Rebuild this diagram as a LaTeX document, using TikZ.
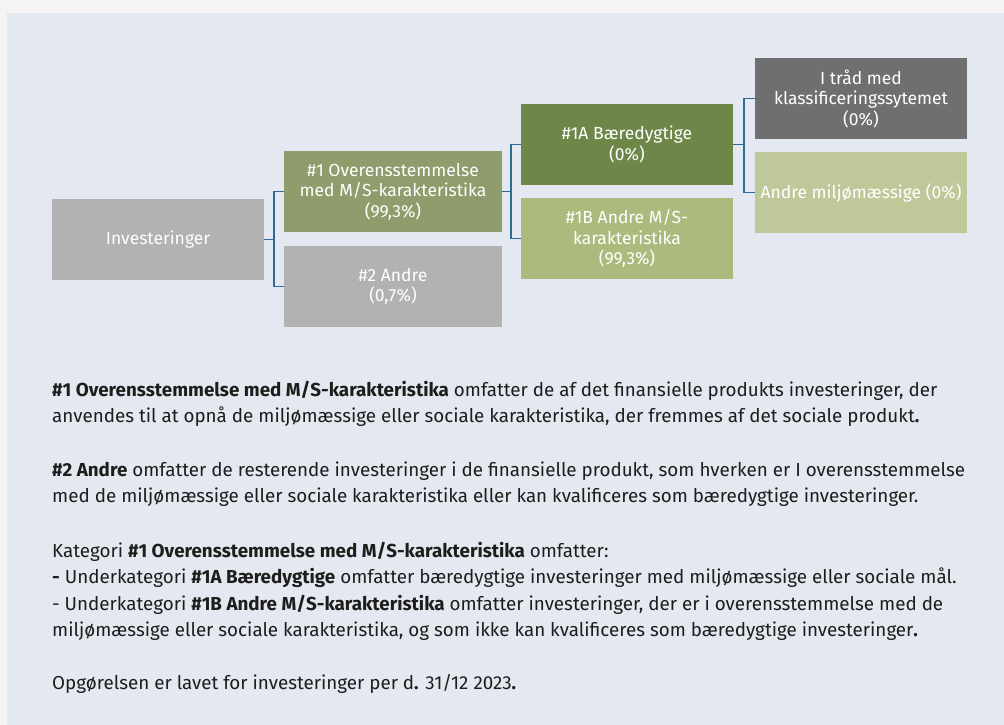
\documentclass[tikz,border=0pt]{standalone}
\usepackage{fontspec}
\setmainfont{Fira Sans}
\definecolor{pagebg}{HTML}{F4F4F4}
\definecolor{panelbg}{HTML}{E4E8F0}
\definecolor{greybox}{HTML}{B2B2B2}
\definecolor{darkgrey}{HTML}{6F6F6F}
\definecolor{olive}{HTML}{8F9C6B}
\definecolor{darkgreen}{HTML}{6E8749}
\definecolor{midgreen}{HTML}{ABBB7E}
\definecolor{palegreen}{HTML}{BFC899}
\definecolor{linkblue}{HTML}{2D6A95}
\definecolor{bodytext}{HTML}{1D1D1B}
\tikzset{
  catbox/.style={rectangle, minimum height=81pt, minimum width=212pt, inner sep=0pt,
    text=white, align=center, font=\fontsize{17.5}{20.5}\selectfont},
  link/.style={draw=linkblue, line width=1.6pt},
  bodyline/.style={anchor=base west, inner sep=0pt, text=bodytext,
    font=\fontsize{18.8}{24}\selectfont}
}
\begin{document}
\begin{tikzpicture}[x=1pt, y=-1pt]
  % Background
  \fill[pagebg] (0, 0) rectangle (1004, 725);
  \fill[panelbg] (7, 13) rectangle (1004, 725);
  \useasboundingbox (0, 0) rectangle (1004, 725);
  % Nodes
  \node (inv) [catbox, fill=greybox] at (158, 239.5) {Investeringer};
  \node (o1) [catbox, fill=olive, minimum width=218pt] at (393, 191.5) {\#1 Overensstemmelse\\med M/S-karakteristika\\(99,3\%)};
  \node (o2) [catbox, fill=greybox, minimum width=218pt] at (393, 286.5) {\#2 Andre\\(0,7\%)};
  \node (a1) [catbox, fill=darkgreen] at (627, 144.5) {\#1A Bæredygtige\\(0\%)};
  \node (b1) [catbox, fill=midgreen] at (627, 238.5) {\#1B Andre M/S-\\karakteristika\\(99,3\%)};
  \node (k1) [catbox, fill=darkgrey] at (861, 98.5) {I tråd med\\klassificeringssytemet\\(0\%)};
  \node (k2) [catbox, fill=palegreen] at (861, 192.5) {Andre miljømæssige (0\%)};
  % Arrows
  \draw[link] (inv.east) -- ++(9.5, 0) coordinate (j1) |- (o1.west);
  \draw[link] (j1) |- (o2.west);
  \draw[link] (o1.east) -- ++(8.5, 0) coordinate (j2) |- (a1.west);
  \draw[link] (j2) |- (b1.west);
  \draw[link] (a1.east) -- ++(10.5, 0) coordinate (j3) |- (k1.west);
  \draw[link] (j3) |- (k2.west);
  % Text
  \node (t1) [bodyline] at (52, 396) {\textbf{\#1 Overensstemmelse med M/S-karakteristika} omfatter de af det finansielle produkts investeringer, der};
  \node (t2) [bodyline] at (52, 422) {anvendes til at opnå de miljømæssige eller sociale karakteristika, der fremmes af det sociale produkt\textbf{.}};
  \node (t3) [bodyline] at (52, 476) {\textbf{\#2 Andre} omfatter de resterende investeringer i de finansielle produkt, som hverken er I overensstemmelse};
  \node (t4) [bodyline] at (52, 502) {med de miljømæssige eller sociale karakteristika eller kan kvalificeres som bæredygtige investeringer.};
  \node (t5) [bodyline] at (52, 557) {Kategori \textbf{\#1 Overensstemmelse med M/S-karakteristika} omfatter:};
  \node (t6) [bodyline] at (52, 583) {\textbf{-} Underkategori \textbf{\#1A Bæredygtige} omfatter bæredygtige investeringer med miljømæssige eller sociale mål.};
  \node (t7) [bodyline] at (52, 610) {- Underkategori \textbf{\#1B Andre M/S-karakteristika} omfatter investeringer, der er i overensstemmelse med de};
  \node (t8) [bodyline] at (52, 636) {miljømæssige eller sociale karakteristika, og som ikke kan kvalificeres som bæredygtige investeringer\textbf{.}};
  \node (t9) [bodyline] at (52, 689) {Opgørelsen er lavet for investeringer per d\textbf{.} 31/12 2023\textbf{.}};
\end{tikzpicture}
\end{document}
